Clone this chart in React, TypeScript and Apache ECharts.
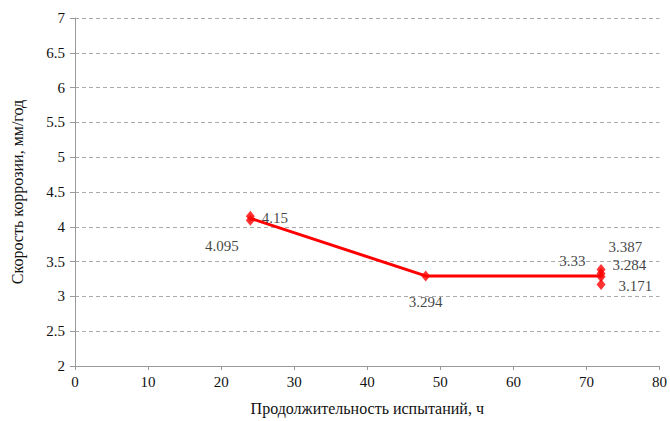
import React, { useEffect, useRef } from "react";
import * as echarts from "echarts";

const hours = [24, 24, 48, 72, 72, 72, 72];
const rates = [4.15, 4.095, 3.294, 3.387, 3.33, 3.284, 3.171];
const lineHours = [24, 48, 72];
const xTicks = [0, 10, 20, 30, 40, 50, 60, 70, 80];

const labelPlacement: Record<string, { position: string; offset: number[] }> = {
  "4.15": { position: "right", offset: [2, 2] },
  "4.095": { position: "left", offset: [-2, 26] },
  "3.294": { position: "bottom", offset: [0, 8] },
  "3.387": { position: "right", offset: [-2, -22] },
  "3.33": { position: "left", offset: [-6, -12] },
  "3.284": { position: "right", offset: [2, -12] },
  "3.171": { position: "right", offset: [8, 2] },
};

export default function App() {
  const ref = useRef<HTMLDivElement>(null);
  useEffect(() => {
    if (!ref.current) return;
    const chart = echarts.init(ref.current, undefined, { renderer: "svg" });
    const means = lineHours.map((h) => {
      const vals = rates.filter((_, i) => hours[i] === h);
      return [h, vals.reduce((a, b) => a + b, 0) / vals.length];
    });
    const font = "'Liberation Serif', 'DejaVu Serif', serif";
    const txt = "#111";
    chart.setOption({
      animation: false,
      backgroundColor: "#fff",
      textStyle: { fontFamily: font },
      grid: { left: 75, right: 10, top: 18, bottom: 53 },
      xAxis: {
        type: "value",
        min: 0,
        max: 80,
        interval: 10,
        name: "Продолжительность испытаний, ч",
        nameLocation: "middle",
        nameGap: 34,
        nameTextStyle: { fontFamily: font, fontSize: 16, color: txt },
        axisLine: { show: true, lineStyle: { color: "#999", width: 1 } },
        axisTick: { show: true, length: 4, lineStyle: { color: "#999" } },
        axisLabel: { fontFamily: font, fontSize: 15, color: txt, margin: 8 },
        splitLine: { show: false },
      },
      yAxis: {
        type: "value",
        min: 2,
        max: 7,
        interval: 0.5,
        name: "Скорость коррозии, мм/год",
        nameLocation: "middle",
        nameGap: 50,
        nameTextStyle: { fontFamily: font, fontSize: 16, color: txt },
        axisLine: { show: true, lineStyle: { color: "#999", width: 1 } },
        axisTick: { show: true, length: 5, lineStyle: { color: "#999" } },
        axisLabel: { fontFamily: font, fontSize: 15, color: txt, margin: 10 },
        splitLine: { show: true, lineStyle: { color: "#aaa", type: [4, 3], width: 1 } },
      },
      series: [
        {
          type: "line",
          data: means,
          symbol: "none",
          lineStyle: { color: "#f00", width: 3 },
          z: 2,
        },
        {
          type: "scatter",
          symbol: "diamond",
          symbolSize: [9, 11],
          itemStyle: { color: "#f00" },
          z: 3,
          data: hours.map((h, i) => {
            const key = String(rates[i]);
            const p = labelPlacement[key];
            return {
              value: [h, rates[i]],
              label: {
                show: true,
                formatter: key,
                position: p.position,
                offset: p.offset,
                fontFamily: font,
                fontSize: 15,
                color: txt,
              },
            };
          }),
        },
      ],
    });
    return () => chart.dispose();
  }, []);
  return <div ref={ref} style={{ width: 670, height: 421, position: "absolute", left: 0, top: 0 }} />;
}
